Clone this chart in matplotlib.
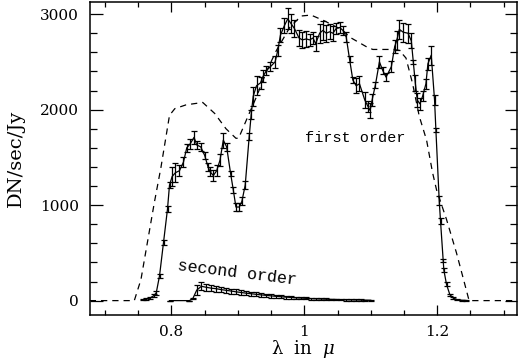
import matplotlib
matplotlib.use("Agg")
import matplotlib.pyplot as plt
from matplotlib.ticker import MultipleLocator, FixedLocator

# First-order measured response (wavelength in micron, DN/sec/Jy, error)
wl1 = [0.757, 0.762, 0.767, 0.773, 0.777, 0.782, 0.788, 0.794, 0.797, 0.801,
       0.806, 0.812, 0.818, 0.823, 0.828, 0.834, 0.838, 0.844, 0.850, 0.855,
       0.858, 0.863, 0.868, 0.873, 0.878, 0.883, 0.889, 0.893, 0.897, 0.902,
       0.906, 0.911, 0.917, 0.920, 0.923, 0.928, 0.934, 0.938, 0.943, 0.949,
       0.956, 0.960, 0.964, 0.970, 0.975, 0.980, 0.985, 0.992, 0.997, 1.003,
       1.008, 1.013, 1.017, 1.023, 1.028, 1.033, 1.038, 1.043, 1.048, 1.053,
       1.058, 1.063, 1.068, 1.073, 1.078, 1.083, 1.091, 1.096, 1.099, 1.102,
       1.107, 1.113, 1.118, 1.123, 1.131, 1.136, 1.139, 1.143, 1.149, 1.156,
       1.161, 1.164, 1.167, 1.170, 1.174, 1.178, 1.183, 1.186, 1.191, 1.196,
       1.198, 1.203, 1.205, 1.209, 1.210, 1.214, 1.219, 1.224, 1.230, 1.237,
       1.244]
val1 = [10, 18, 25, 50, 80, 260, 610, 960, 1210, 1300,
        1340, 1360, 1450, 1600, 1640, 1710, 1630, 1610, 1520, 1400,
        1350, 1310, 1360, 1470, 1680, 1610, 1330, 1160, 980, 980,
        1040, 1210, 1720, 1950, 2140, 2250, 2280, 2350, 2410, 2450,
        2500, 2620, 2780, 2880, 2950, 2900, 2850, 2750, 2730, 2740,
        2730, 2750, 2690, 2800, 2830, 2800, 2815, 2800, 2850, 2860,
        2830, 2760, 2530, 2310, 2250, 2270, 2100, 2030, 1990, 2100,
        2260, 2500, 2410, 2340, 2450, 2660, 2720, 2840, 2810, 2800,
        2720, 2500, 2280, 2100, 2060, 2140, 2270, 2480, 2570, 2100,
        1790, 1050, 830, 420, 320, 170, 63, 28, 10, 4,
        1]
err1 = [8, 10, 10, 15, 20, 20, 25, 30, 30, 100,
        100, 60, 50, 40, 50, 70, 40, 40, 40, 40,
        50, 60, 60, 60, 80, 40, 30, 30, 40, 40,
        40, 40, 40, 50, 100, 100, 60, 60, 50, 50,
        60, 60, 70, 80, 110, 100, 90, 80, 80, 80,
        60, 60, 80, 100, 100, 90, 80, 80, 60, 60,
        50, 50, 30, 30, 80, 80, 80, 60, 80, 60,
        30, 60, 40, 40, 60, 70, 100, 100, 100, 100,
        80, 20, 80, 70, 60, 50, 50, 60, 100, 50,
        20, 50, 30, 20, 20, 20, 10, 8, 5, 3,
        2]

# Second-order measured response
wl2 = [0.797, 0.827, 0.832, 0.838, 0.845, 0.852, 0.860, 0.867, 0.875, 0.882,
       0.890, 0.897, 0.905, 0.912, 0.920, 0.927, 0.935, 0.942, 0.950, 0.957,
       0.965, 0.972, 0.980, 0.987, 0.995, 1.002, 1.010, 1.017, 1.025, 1.032,
       1.040, 1.047, 1.055, 1.062, 1.070, 1.077, 1.085, 1.092, 1.100]
val2 = [0, 0, 20, 110, 150, 140, 130, 125, 115, 108,
        100, 92, 85, 78, 72, 66, 60, 55, 50, 45,
        41, 37, 33, 30, 27, 24, 21, 19, 17, 15,
        13, 12, 10, 9, 8, 7, 6, 5, 4]
err2 = [0, 0, 5, 50, 40, 35, 32, 30, 28, 27,
        26, 25, 24, 23, 22, 21, 20, 19, 18, 17,
        16, 15, 14, 13, 12, 12, 11, 11, 10, 10,
        9, 9, 8, 8, 7, 7, 6, 6, 5]

# Model (dashed) curve
wl_m = [0.677, 0.744, 0.754, 0.764, 0.774, 0.784, 0.797, 0.805, 0.822, 0.847,
        0.865, 0.882, 0.897, 0.901, 0.917, 0.928, 0.943, 0.958, 0.978, 0.995,
        1.010, 1.030, 1.058, 1.068, 1.093, 1.103, 1.133, 1.143, 1.153, 1.163,
        1.173, 1.184, 1.193, 1.199, 1.214, 1.229, 1.241, 1.248, 1.320]
val_m = [0, 0, 220, 620, 1020, 1390, 1940, 2010, 2050, 2075,
         1960, 1800, 1700, 1700, 1960, 2135, 2400, 2620, 2860, 2980,
         2990, 2930, 2830, 2760, 2660, 2630, 2630, 2620, 2540, 2270,
         1930, 1680, 1340, 1160, 850, 500, 185, 0, 0]

xticks_major = [0.8, 1.0, 1.2]
xtick_labels = ["0.8", "1", "1.2"]
yticks_major = [0, 1000, 2000, 3000]
ytick_labels = ["0", "1000", "2000", "3000"]

plt.rcParams['font.family'] = ['DejaVu Serif']
plt.rcParams['mathtext.fontset'] = 'dejavuserif'

fig = plt.figure(figsize=(5.19, 3.62), dpi=100)
ax = fig.add_axes([0.173, 0.130, 0.823, 0.864])

ax.plot(wl_m, val_m, color='black', lw=0.9, dashes=(5, 4))
ax.errorbar(wl1, val1, yerr=err1, color='black', lw=0.9, elinewidth=0.9,
            capsize=2.5, capthick=0.9)
ax.errorbar(wl2, val2, yerr=err2, color='black', lw=0.9, elinewidth=0.9,
            capsize=2.5, capthick=0.9)

ax.text(1.076, 1703, "first order", family='Liberation Mono', fontsize=11,
        ha='center', va='center')
ax.text(0.899, 290, "second order", family='Liberation Mono', fontsize=12,
        ha='center', va='center', rotation=-7)

ax.set_xlim(0.677, 1.32)
ax.set_ylim(-150, 3125)
ax.xaxis.set_major_locator(FixedLocator(xticks_major))
ax.set_xticklabels(xtick_labels)
ax.xaxis.set_minor_locator(MultipleLocator(0.05))
ax.yaxis.set_major_locator(FixedLocator(yticks_major))
ax.set_yticklabels(ytick_labels)
ax.yaxis.set_minor_locator(MultipleLocator(200))

ax.tick_params(which='both', direction='in', top=True, right=True,
               labelsize=11, width=0.9)
ax.tick_params(axis='x', which='major', length=7, pad=7)
ax.tick_params(axis='x', which='minor', length=3.6)
ax.tick_params(axis='y', which='major', length=9, pad=8)
ax.tick_params(axis='y', which='minor', length=4.8)
for s in ax.spines.values():
    s.set_linewidth(1.1)

ax.set_xlabel(r"λ  in  $\mu$", fontsize=13, va='center')
ax.xaxis.set_label_coords(0.5, -0.108)
ax.set_ylabel("DN/sec/Jy", fontsize=14, va='center')
ax.yaxis.set_label_coords(-0.172, 0.5)

fig.savefig("out.png", dpi=100)
